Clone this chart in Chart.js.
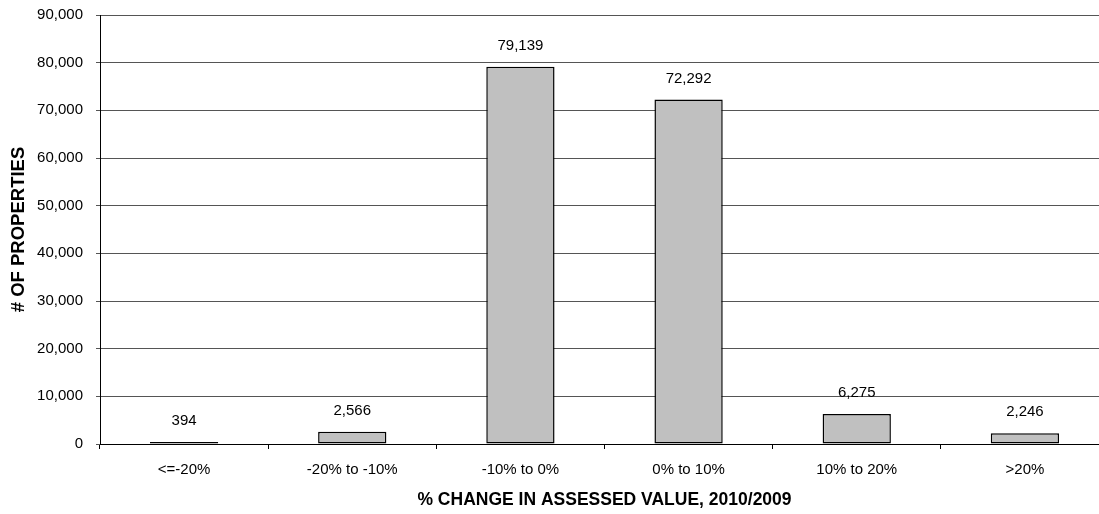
<!DOCTYPE html>
<html>
<head>
<meta charset="utf-8">
<script src="https://cdn.jsdelivr.net/npm/chart.js@4/dist/chart.umd.min.js"></script>
<style>
  html, body { margin: 0; padding: 0; background: #ffffff; overflow: hidden; }
  #wrap { width: 1099px; height: 514px; overflow: hidden; position: relative; }
  canvas { display: block; }
</style>
</head>
<body>
<div id="wrap"><canvas id="chart" width="1109" height="514"></canvas></div>
<script>
// Ranges of change in assessed value and the number of properties in each
const categories = ['<=-20%', '-20% to -10%', '-10% to 0%', '0% to 10%', '10% to 20%', '>20%'];
const propertyCounts = [394, 2566, 79139, 72292, 6275, 2246];
const yTickValues = [0, 10000, 20000, 30000, 40000, 50000, 60000, 70000, 80000, 90000];

const xTitle = '% CHANGE IN ASSESSED VALUE, 2010/2009';
const yTitle = '# OF PROPERTIES';

const FONT = "'Liberation Sans', Arial, sans-serif";
const fmt = v => v.toLocaleString('en-US');

// Writes each bar's count just above it
const barValueLabels = {
  id: 'barValueLabels',
  afterDatasetsDraw(chart) {
    const ctx = chart.ctx;
    const meta = chart.getDatasetMeta(0);
    const data = chart.data.datasets[0].data;
    ctx.save();
    ctx.font = '15px ' + FONT;
    ctx.fillStyle = '#000000';
    ctx.textAlign = 'center';
    ctx.textBaseline = 'middle';
    meta.data.forEach((bar, i) => {
      ctx.fillText(fmt(data[i]), bar.x, bar.y - 21);
    });
    ctx.restore();
  }
};

new Chart(document.getElementById('chart'), {
  type: 'bar',
  data: {
    labels: categories,
    datasets: [{
      data: propertyCounts,
      backgroundColor: '#c0c0c0',
      borderColor: '#000000',
      borderWidth: 1.5,
      borderSkipped: false,
      categoryPercentage: 1,
      barPercentage: 0.406
    }]
  },
  options: {
    responsive: false,
    animation: false,
    devicePixelRatio: 1,
    layout: { padding: { top: 15, right: 0, bottom: 0, left: 0 } },
    plugins: {
      legend: { display: false },
      tooltip: { enabled: false },
      title: { display: false }
    },
    scales: {
      x: {
        grid: {
          offset: true,
          drawOnChartArea: false,
          drawTicks: true,
          tickLength: 5,
          color: '#000000',
          lineWidth: 1
        },
        border: { display: true, color: '#000000', width: 1 },
        ticks: {
          color: '#000000',
          font: { family: FONT, size: 15 },
          padding: 12,
          maxRotation: 0,
          autoSkip: false
        },
        title: {
          display: true,
          text: xTitle,
          color: '#000000',
          font: { family: FONT, size: 17.5, weight: 'bold' },
          padding: { top: 0, bottom: 3.5 }
        },
        afterFit(scale) {
          scale.height = 70;
          scale.paddingLeft = 0;
          scale.paddingRight = 0;
        }
      },
      y: {
        min: 0,
        max: 90000,
        afterBuildTicks(scale) {
          scale.ticks = yTickValues.map(v => ({ value: v }));
        },
        grid: {
          drawOnChartArea: true,
          drawTicks: true,
          tickLength: 4,
          color: '#555555',
          lineWidth: 1
        },
        border: { display: true, color: '#000000', width: 1 },
        ticks: {
          color: '#000000',
          font: { family: FONT, size: 15 },
          padding: 13,
          callback: v => fmt(v)
        },
        title: {
          display: true,
          text: yTitle,
          color: '#000000',
          font: { family: FONT, size: 18.5, weight: 'bold' },
          padding: { top: 7.4, bottom: 0 }
        },
        afterFit(scale) {
          scale.width = 100;
          scale.paddingTop = 0;
          scale.paddingBottom = 0;
        }
      }
    }
  },
  plugins: [barValueLabels]
});
</script>
</body>
</html>
